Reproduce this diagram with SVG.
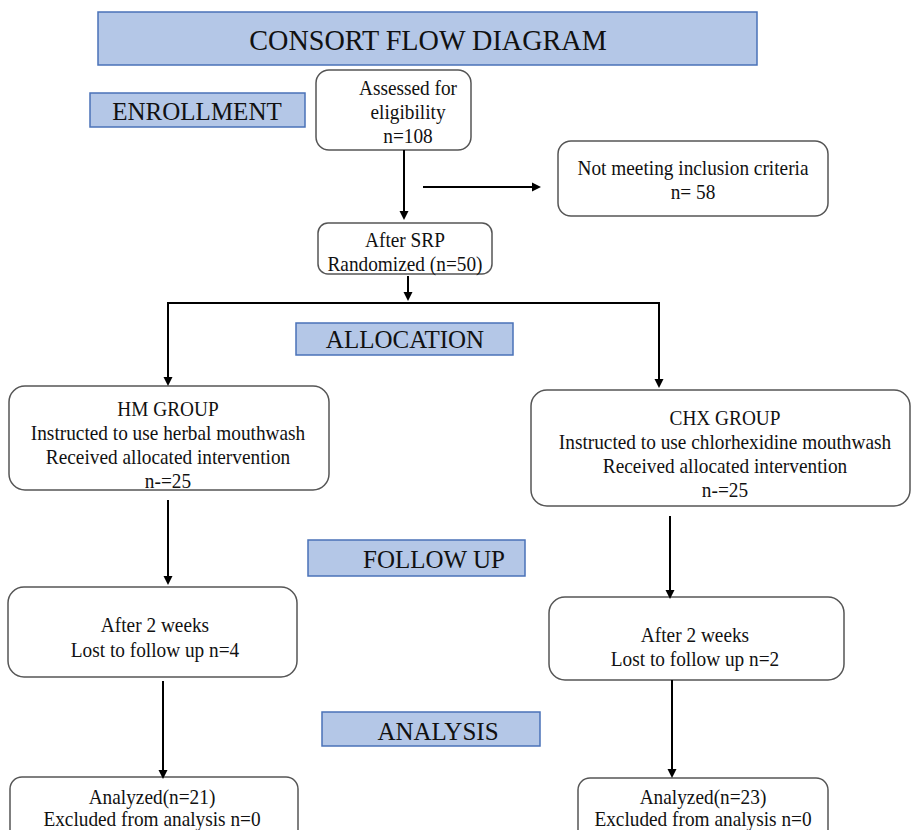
<svg xmlns="http://www.w3.org/2000/svg" width="911" height="830" viewBox="0 0 911 830">
<rect width="911" height="830" fill="#fff"/>
<g id="title"><rect fill="#b4c7e7" stroke="#4a72b8" stroke-width="1.5" x="98" y="12" width="659" height="53"/><text font-family="Liberation Serif" font-size="30" fill="#111" text-anchor="middle" transform="translate(428,0) scale(0.94,1)" x="0" y="50">CONSORT FLOW DIAGRAM</text></g>
<g id="enrollment"><rect fill="#b4c7e7" stroke="#4a72b8" stroke-width="1.5" x="90" y="93" width="215" height="34"/><text font-family="Liberation Serif" font-size="25" fill="#111" text-anchor="middle" x="197" y="120">ENROLLMENT</text></g>
<g id="allocation"><rect fill="#b4c7e7" stroke="#4a72b8" stroke-width="1.5" x="296" y="323" width="217" height="32"/><text font-family="Liberation Serif" font-size="25" fill="#111" text-anchor="middle" x="405" y="348">ALLOCATION</text></g>
<g id="followup"><rect fill="#b4c7e7" stroke="#4a72b8" stroke-width="1.5" x="308" y="540" width="217" height="36"/><text font-family="Liberation Serif" font-size="25" fill="#111" text-anchor="middle" x="434" y="568">FOLLOW UP</text></g>
<g id="analysis"><rect fill="#b4c7e7" stroke="#4a72b8" stroke-width="1.5" x="322" y="712" width="218" height="34"/><text font-family="Liberation Serif" font-size="25" fill="#111" text-anchor="middle" x="438" y="740">ANALYSIS</text></g>
<g id="assessed"><rect fill="#fff" stroke="#555" stroke-width="1.5" x="316" y="70" width="155" height="80" rx="13"/><g transform="translate(408,0) scale(0.92,1)"><text font-family="Liberation Serif" font-size="21" fill="#111" text-anchor="middle" x="0" y="95">Assessed for</text><text font-family="Liberation Serif" font-size="21" fill="#111" text-anchor="middle" x="0" y="119">eligibility</text><text font-family="Liberation Serif" font-size="21" fill="#111" text-anchor="middle" x="0" y="143">n=108</text></g></g>
<g id="notmeeting"><rect fill="#fff" stroke="#555" stroke-width="1.5" x="558" y="141" width="270" height="75" rx="13"/><g transform="translate(693,0) scale(0.92,1)"><text font-family="Liberation Serif" font-size="21" fill="#111" text-anchor="middle" x="0" y="175">Not meeting inclusion criteria</text><text font-family="Liberation Serif" font-size="21" fill="#111" text-anchor="middle" x="0" y="199">n= 58</text></g></g>
<g id="srp"><rect fill="#fff" stroke="#555" stroke-width="1.5" x="318" y="223" width="174" height="51" rx="10"/><g transform="translate(405,0) scale(0.92,1)"><text font-family="Liberation Serif" font-size="21" fill="#111" text-anchor="middle" x="0" y="247">After SRP</text><text font-family="Liberation Serif" font-size="21" fill="#111" text-anchor="middle" x="0" y="271">Randomized (n=50)</text></g></g>
<g id="hm"><rect fill="#fff" stroke="#555" stroke-width="1.5" x="9" y="386" width="320" height="104" rx="16"/><g transform="translate(168,0) scale(0.92,1)"><text font-family="Liberation Serif" font-size="21" fill="#111" text-anchor="middle" x="0" y="416">HM GROUP</text><text font-family="Liberation Serif" font-size="21" fill="#111" text-anchor="middle" x="0" y="440">Instructed to use herbal mouthwash</text><text font-family="Liberation Serif" font-size="21" fill="#111" text-anchor="middle" x="0" y="464">Received allocated intervention</text><text font-family="Liberation Serif" font-size="21" fill="#111" text-anchor="middle" x="0" y="488">n-=25</text></g></g>
<g id="chx"><rect fill="#fff" stroke="#555" stroke-width="1.5" x="531" y="390" width="379" height="116" rx="16"/><g transform="translate(725,0) scale(0.92,1)"><text font-family="Liberation Serif" font-size="21" fill="#111" text-anchor="middle" x="0" y="425">CHX GROUP</text><text font-family="Liberation Serif" font-size="21" fill="#111" text-anchor="middle" x="0" y="449">Instructed to use chlorhexidine mouthwash</text><text font-family="Liberation Serif" font-size="21" fill="#111" text-anchor="middle" x="0" y="473">Received allocated intervention</text><text font-family="Liberation Serif" font-size="21" fill="#111" text-anchor="middle" x="0" y="497">n-=25</text></g></g>
<g id="fu-hm"><rect fill="#fff" stroke="#555" stroke-width="1.5" x="8" y="587" width="289" height="90" rx="16"/><g transform="translate(155,0) scale(0.92,1)"><text font-family="Liberation Serif" font-size="21" fill="#111" text-anchor="middle" x="0" y="632">After 2 weeks</text><text font-family="Liberation Serif" font-size="21" fill="#111" text-anchor="middle" x="0" y="657">Lost to follow up n=4</text></g></g>
<g id="fu-chx"><rect fill="#fff" stroke="#555" stroke-width="1.5" x="549" y="597" width="295" height="83" rx="16"/><g transform="translate(695,0) scale(0.92,1)"><text font-family="Liberation Serif" font-size="21" fill="#111" text-anchor="middle" x="0" y="642">After 2 weeks</text><text font-family="Liberation Serif" font-size="21" fill="#111" text-anchor="middle" x="0" y="666">Lost to follow up n=2</text></g></g>
<g id="an-hm"><rect fill="#fff" stroke="#555" stroke-width="1.5" x="10" y="777" width="288" height="70" rx="12"/><g transform="translate(152,0) scale(0.92,1)"><text font-family="Liberation Serif" font-size="21" fill="#111" text-anchor="middle" x="0" y="804">Analyzed(n=21)</text><text font-family="Liberation Serif" font-size="21" fill="#111" text-anchor="middle" x="0" y="826">Excluded from analysis n=0</text></g></g>
<g id="an-chx"><rect fill="#fff" stroke="#555" stroke-width="1.5" x="578" y="778" width="250" height="70" rx="12"/><g transform="translate(703,0) scale(0.92,1)"><text font-family="Liberation Serif" font-size="21" fill="#111" text-anchor="middle" x="0" y="804">Analyzed(n=23)</text><text font-family="Liberation Serif" font-size="21" fill="#111" text-anchor="middle" x="0" y="826">Excluded from analysis n=0</text></g></g>
<g id="connectors" stroke="#000" stroke-width="2" fill="none">
<path d="M404,150 V212 M423,187 H533 M408,276 V293 M168,378 V303 H659 V380 M168,500 V577 M670,516 V591 M163,681 V771 M672,680 V770"/>
<g fill="#000" stroke="none">
<path d="M399.5,211 L408.5,211 L404,220 z"/>
<path d="M532,182.5 L532,191.5 L541,187 z"/>
<path d="M403.5,292 L412.5,292 L408,301 z"/>
<path d="M163.5,377 L172.5,377 L168,386 z"/>
<path d="M654.5,379 L663.5,379 L659,388 z"/>
<path d="M163.5,576 L172.5,576 L168,585 z"/>
<path d="M665.5,590 L674.5,590 L670,599 z"/>
<path d="M158.5,770 L167.5,770 L163,779 z"/>
<path d="M667.5,769 L676.5,769 L672,778 z"/>
</g>
</g>
</svg>
